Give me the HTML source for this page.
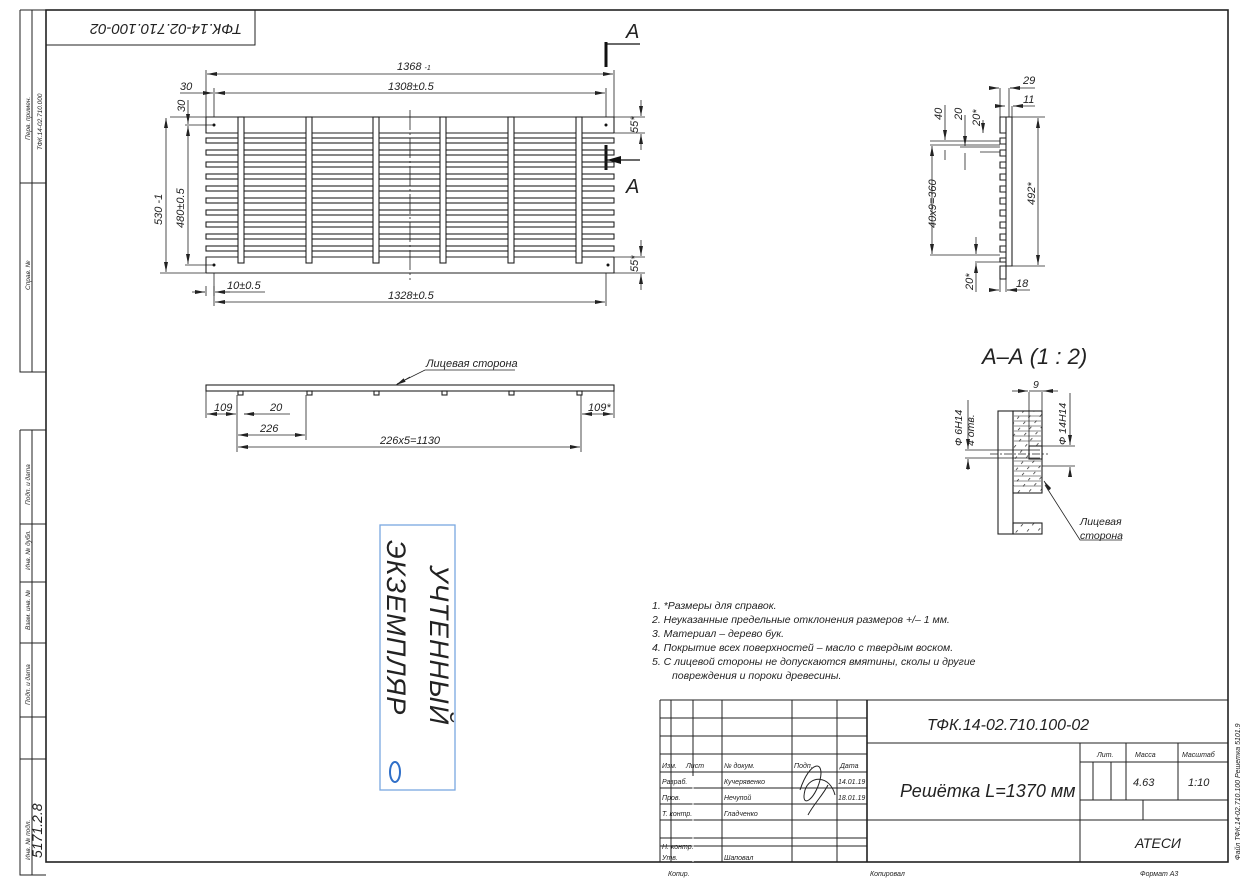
<!DOCTYPE html>
<html><head><meta charset="utf-8"><style>
html,body{margin:0;padding:0;background:#fff}
svg{display:block}
text{font-family:"Liberation Sans","DejaVu Sans",sans-serif;font-style:italic;fill:#222}
</style></head><body>
<svg width="1246" height="884" viewBox="0 0 1246 884" xmlns="http://www.w3.org/2000/svg">
<defs>
<marker id="a" viewBox="0 0 10 6" refX="10" refY="3" markerWidth="10" markerHeight="6" orient="auto-start-reverse" markerUnits="userSpaceOnUse"><path d="M0,1 L10,3 L0,5 z" fill="#222"/></marker>
</defs>
<g stroke="#222" fill="none" stroke-width="1">
<rect x="46" y="10" width="1182" height="852" stroke-width="1.6"/>
<path d="M20,10 V372 H46 M32,10 V372 M20,183 H46 M20,10 H46"/>
<path d="M20,430 V875 H46 M32,430 V875 M20,430 H46 M20,524 H46 M20,582 H46 M20,643 H46 M20,717 H46 M20,759 H46"/>
<rect x="46" y="10" width="209" height="35"/>
</g>
<g font-size="6.5" fill="#444">
<text transform="translate(30,140) rotate(-90)">Перв. примен.</text>
<text transform="translate(42,150) rotate(-90)">ТФК.14-02.710.000</text>
<text transform="translate(30,290) rotate(-90)">Справ. №</text>
<text transform="translate(30,505) rotate(-90)">Подп. и дата</text>
<text transform="translate(30,570) rotate(-90)">Инв. № дубл.</text>
<text transform="translate(30,630) rotate(-90)">Взам. инв. №</text>
<text transform="translate(30,705) rotate(-90)">Подп. и дата</text>
<text transform="translate(30,860) rotate(-90)">Инв. № подл.</text>
</g>
<text transform="translate(42,858) rotate(-90)" font-size="14">5171.2.8</text>
<text transform="translate(242,24) rotate(180)" font-size="15">ТФК.14-02.710.100-02</text>

<g stroke="#111" stroke-width="3"><path d="M606,42 V67 M606,145 V170"/></g>
<g stroke="#111" stroke-width="1.2"><path d="M606,44 H640 M606,160 H640"/></g>
<path d="M607,160 l14,-4 v8z" fill="#111"/>
<text x="626" y="38" font-size="20">А</text>
<text x="626" y="193" font-size="20">А</text>

<g stroke="#222" fill="none" stroke-width="1.1">
<path d="M206,117 H614 V133 M206,117 V133 H614"/>
<path d="M206,273 H614 V257 M206,273 V257 H614"/>
<rect x="206" y="138" width="408" height="5"/>
<rect x="206" y="150" width="408" height="5"/>
<rect x="206" y="162" width="408" height="5"/>
<rect x="206" y="174" width="408" height="5"/>
<rect x="206" y="186" width="408" height="5"/>
<rect x="206" y="198" width="408" height="5"/>
<rect x="206" y="210" width="408" height="5"/>
<rect x="206" y="222" width="408" height="5"/>
<rect x="206" y="234" width="408" height="5"/>
<rect x="206" y="246" width="408" height="5"/>
<g fill="#fff">
<rect x="238" y="117" width="6" height="146"/>
<rect x="306" y="117" width="6" height="146"/>
<rect x="373" y="117" width="6" height="146"/>
<rect x="440" y="117" width="6" height="146"/>
<rect x="508" y="117" width="6" height="146"/>
<rect x="576" y="117" width="6" height="146"/>
</g>
<path d="M410,110 V280" stroke-dasharray="20,3,2,3" stroke-width="0.8"/>
</g>
<g fill="#111"><circle cx="214" cy="125" r="1.5"/><circle cx="606" cy="125" r="1.5"/><circle cx="214" cy="265" r="1.5"/><circle cx="608" cy="265" r="1.5"/></g>
<g stroke="#222" stroke-width="0.8" fill="none">
<path d="M206,117 V70 M614,117 V70 M214,117 V88 M606,117 V88 M214,273 V306 M606,273 V306"/>
<path d="M207,74 H613" marker-start="url(#a)" marker-end="url(#a)"/>
<path d="M215,93 H605" marker-start="url(#a)" marker-end="url(#a)"/>
<path d="M215,302 H605" marker-start="url(#a)" marker-end="url(#a)"/>
<path d="M180,93 H213" marker-end="url(#a)"/>
<path d="M170,117 H206 M185,125 H214 M185,265 H214 M160,273 H206"/>
<path d="M166,118 V272" marker-start="url(#a)" marker-end="url(#a)"/>
<path d="M188,126 V264" marker-start="url(#a)" marker-end="url(#a)"/>
<path d="M188,100 V124" marker-end="url(#a)"/>
<path d="M192,292 H205 M225,292 H265 M206,286 V296 M214,286 V296" />
<path d="M195,292 H205" marker-end="url(#a)"/><path d="M230,292 H215" marker-end="url(#a)"/>
<path d="M614,133 H645 M614,117 H645 M614,257 H645 M614,273 H645"/>
<path d="M641,100 V116" marker-end="url(#a)"/><path d="M641,150 V134" marker-end="url(#a)"/>
<path d="M641,240 V256" marker-end="url(#a)"/><path d="M641,290 V274" marker-end="url(#a)"/>
</g>
<g font-size="11">
<text x="397" y="70">1368 <tspan font-size="7">-1</tspan></text>
<text x="388" y="90">1308±0.5</text>
<text x="180" y="90">30</text>
<text transform="translate(185,112) rotate(-90)">30</text>
<text transform="translate(162,225) rotate(-90)">530 -1</text>
<text transform="translate(184,228) rotate(-90)">480±0.5</text>
<text x="227" y="289">10±0.5</text>
<text x="388" y="299">1328±0.5</text>
<text transform="translate(638,133) rotate(-90)">55*</text>
<text transform="translate(638,272) rotate(-90)">55*</text>
</g>

<g stroke="#222" stroke-width="1.1" fill="none">
<rect x="206" y="385" width="408" height="6"/>
<rect x="238" y="391" width="5" height="4"/><rect x="307" y="391" width="5" height="4"/><rect x="374" y="391" width="5" height="4"/><rect x="442" y="391" width="5" height="4"/><rect x="509" y="391" width="5" height="4"/><rect x="577" y="391" width="5" height="4"/>
</g>
<g stroke="#222" stroke-width="0.8" fill="none">
<path d="M237,395 V452 M306,395 V440 M581,395 V452 M614,391 V418 M206,391 V418"/>
<path d="M207,414 H236" marker-start="url(#a)" marker-end="url(#a)"/>
<path d="M255,414 H244" marker-end="url(#a)"/><path d="M244,414 H290"/>
<path d="M582,414 H613" marker-start="url(#a)" marker-end="url(#a)"/>
<path d="M238,435 H305" marker-start="url(#a)" marker-end="url(#a)"/>
<path d="M238,447 H580" marker-start="url(#a)" marker-end="url(#a)"/>
<path d="M515,370 H425 L397,384" /><path d="M410,377 L396,385" marker-end="url(#a)"/>
</g>
<g font-size="11">
<text x="214" y="411">109</text><text x="270" y="411">20</text><text x="260" y="432">226</text>
<text x="588" y="411">109*</text><text x="380" y="444">226х5=1130</text>
<text x="426" y="367">Лицевая сторона</text>
</g>

<g stroke="#222" stroke-width="1.1" fill="none">
<path d="M1006,117 H1012 V266 H1006 Z"/>
<path d="M1006,117 H1000 V133 H1006 M1006,266 H1000 V279 H1006 V266"/>
<path d="M1006,138 H1000 V144 H1006 M1006,150 H1000 V156 H1006 M1006,162 H1000 V168 H1006 M1006,174 H1000 V180 H1006 M1006,186 H1000 V192 H1006 M1006,198 H1000 V204 H1006 M1006,210 H1000 V216 H1006 M1006,222 H1000 V228 H1006 M1006,234 H1000 V240 H1006 M1006,246 H1000 V252 H1006 M1006,258 H1000 V262 H1006"/>
</g>
<g stroke="#222" stroke-width="0.8" fill="none">
<path d="M1000,133 V88 M1009,117 V88 M1012,117 V106 M1000,279 V292 M1006,279 V292"/>
<path d="M990,88 H999" marker-end="url(#a)"/><path d="M1020,88 H1010" marker-end="url(#a)"/><path d="M1010,88 H1035"/>
<path d="M995,106 H1005" marker-end="url(#a)"/><path d="M1022,106 H1013" marker-end="url(#a)"/><path d="M1013,106 H1035"/>
<path d="M1012,117 H1045 M1012,266 H1045"/>
<path d="M1038,118 V265" marker-start="url(#a)" marker-end="url(#a)"/>
<path d="M930,145 H1000 M930,141 H1000 M960,147 H1000 M980,152 H1000 M930,255 H1000 M975,262 H1000"/>
<path d="M945,105 V140" marker-end="url(#a)"/><path d="M945,160 V150"/>
<path d="M965,115 V146" marker-end="url(#a)"/><path d="M965,170 V153"/>
<path d="M983,120 V133" marker-end="url(#a)"/>
<path d="M932,146 V254" marker-start="url(#a)" marker-end="url(#a)"/>
<path d="M976,237 V254" marker-end="url(#a)"/><path d="M976,292 V263" marker-end="url(#a)"/>
<path d="M990,290 H999" marker-end="url(#a)"/><path d="M1016,290 H1007" marker-end="url(#a)"/><path d="M1007,290 H1030"/>
</g>
<g font-size="11">
<text x="1023" y="84">29</text><text x="1023" y="103">11</text><text x="1016" y="287">18</text>
<text transform="translate(942,120) rotate(-90)">40</text>
<text transform="translate(962,120) rotate(-90)">20</text>
<text transform="translate(980,126) rotate(-90)">20*</text>
<text transform="translate(936,228) rotate(-90)">40х9=360</text>
<text transform="translate(1035,205) rotate(-90)">492*</text>
<text transform="translate(973,290) rotate(-90)">20*</text>
</g>

<text x="982" y="364" font-size="22">А–А  (1 : 2)</text>
<defs><pattern id="h" width="8" height="8" patternUnits="userSpaceOnUse" patternTransform="rotate(40)"><path d="M0,0 V3" stroke="#222" stroke-width="1.4"/></pattern></defs>
<g stroke="#222" stroke-width="1.1" fill="none">
<rect x="998" y="411" width="15" height="123"/>
<rect x="1013" y="411" width="29" height="82"/>
<rect x="1013" y="523" width="29" height="11"/>
<rect x="1013" y="411" width="29" height="82" fill="url(#h)" stroke="none"/>
<rect x="1013" y="523" width="29" height="11" fill="url(#h)" stroke="none"/>
<path d="M1014,416 H1041 M1014,421 H1041 M1014,426 H1041 M1014,431 H1041 M1014,436 H1041 M1014,441 H1041 M1014,461 H1041 M1014,466 H1041 M1014,471 H1041 M1014,476 H1041 M1014,481 H1041 M1014,486 H1041" stroke-width="0.5"/>
<rect x="1029" y="446" width="13" height="13" fill="#fff"/>
</g>
<g stroke="#222" stroke-width="0.8" fill="none">
<path d="M965,450 H1040 M965,458 H1040" /><path d="M990,454 H1048" stroke-dasharray="8,2,2,2"/>
<path d="M1042,446 H1075 M1042,466 H1075 M1070,393 V445" marker-end="url(#a)"/><path d="M1070,475 V467" marker-end="url(#a)"/>
<path d="M968,440 V449" marker-end="url(#a)"/><path d="M968,470 V459" marker-end="url(#a)"/><path d="M968,400 V440"/>
<path d="M1029,392 V446 M1042,392 V411"/>
<path d="M1012,391 H1028" marker-end="url(#a)"/><path d="M1058,391 H1043" marker-end="url(#a)"/><path d="M1029,391 H1043"/>
<path d="M1122,540 H1080 L1045,485" /><path d="M1050,490 L1044,481" marker-end="url(#a)"/>
</g>
<g font-size="10.5">
<text x="1033" y="388">9</text>
<text transform="translate(962,446) rotate(-90)">Ф 6Н14</text>
<text transform="translate(974,446) rotate(-90)">4 отв.</text>
<text transform="translate(1066,445) rotate(-90)">Ф 14Н14</text>
<text x="1080" y="525">Лицевая</text><text x="1080" y="539">сторона</text>
</g>

<g font-size="10.5">
<text x="652" y="609">1.   *Размеры для справок.</text>
<text x="652" y="623">2.   Неуказанные предельные отклонения размеров +/– 1 мм.</text>
<text x="652" y="637">3.   Материал – дерево бук.</text>
<text x="652" y="651">4.   Покрытие всех поверхностей – масло с твердым воском.</text>
<text x="652" y="665">5.   С лицевой стороны не допускаются вмятины, сколы и другие</text>
<text x="672" y="679">повреждения и пороки древесины.</text>
</g>

<g>
<rect x="380" y="525" width="75" height="265" fill="none" stroke="#7aa8e0" stroke-width="1.3"/>
<text transform="translate(430,565) rotate(90)" font-size="27" font-style="normal" fill="#4a88d6" letter-spacing="1">УЧТЕННЫЙ</text>
<text transform="translate(387,540) rotate(90)" font-size="27" font-style="normal" fill="#4a88d6" letter-spacing="1">ЭКЗЕМПЛЯР</text>
<ellipse cx="395" cy="772" rx="5" ry="10" fill="none" stroke="#2f6fc8" stroke-width="2"/>
</g>

<g stroke="#222" fill="none" stroke-width="1">
<path d="M660,700 H1228 M660,700 V862"/>
<path d="M671,700 V862 M693,700 V776 M722,700 V862 M792,700 V862 M837,700 V862" />
<path d="M867,700 V862" stroke-width="1.6"/>
<path d="M660,718 H867 M660,736 H867 M660,754 H867 M660,772 H867 M660,788 H867 M660,804 H867 M660,820 H867 M660,838 H867 M660,846 H867"/>
<path d="M867,743 H1228 M867,820 H1228 M1080,743 V862 M1080,762 H1228 M1080,800 H1228 M1093,762 V800 M1111,762 V800 M1126,743 V800 M1178,743 V800 M1143,800 V820"/>
</g>
<path d="M693,776 V862" stroke="#fff"/>
<g font-size="7" fill="#333">
<text x="662" y="768">Изм.</text><text x="686" y="768">Лист</text><text x="724" y="768">№ докум.</text><text x="794" y="768">Подп.</text><text x="840" y="768">Дата</text>
<text x="662" y="784">Разраб.</text><text x="724" y="784">Кучерявенко</text>
<text x="662" y="800">Пров.</text><text x="724" y="800">Нечупой</text>
<text x="662" y="816">Т. контр.</text><text x="724" y="816">Гладченко</text>
<text x="662" y="849">Н. контр.</text>
<text x="662" y="860">Утв.</text><text x="724" y="860">Шаповал</text>
<text x="1097" y="757">Лит.</text><text x="1135" y="757">Масса</text><text x="1182" y="757">Масштаб</text>
<text x="668" y="876">Копир.</text><text x="870" y="876">Копировал</text><text x="1140" y="876">Формат А3</text>
<text x="838" y="784">14.01.19</text><text x="838" y="800">18.01.19</text>
</g>
<text x="927" y="730" font-size="16">ТФК.14-02.710.100-02</text>
<text x="900" y="797" font-size="18">Решётка L=1370 мм</text>
<text x="1133" y="786" font-size="11">4.63</text>
<text x="1188" y="786" font-size="11">1:10</text>
<text x="1135" y="848" font-size="14">АТЕСИ</text>
<text transform="translate(1240,860) rotate(-90)" font-size="7" fill="#666">Файл ТФК.14-02.710.100 Решетка 5101.9</text>
<path d="M800,790 c10,-30 25,-30 20,-10 c-5,20 -20,30 -15,10 c5,-15 25,-15 30,5 M808,815 c5,-10 15,-20 20,-30" stroke="#222" fill="none" stroke-width="1"/>
</svg>
</body></html>
